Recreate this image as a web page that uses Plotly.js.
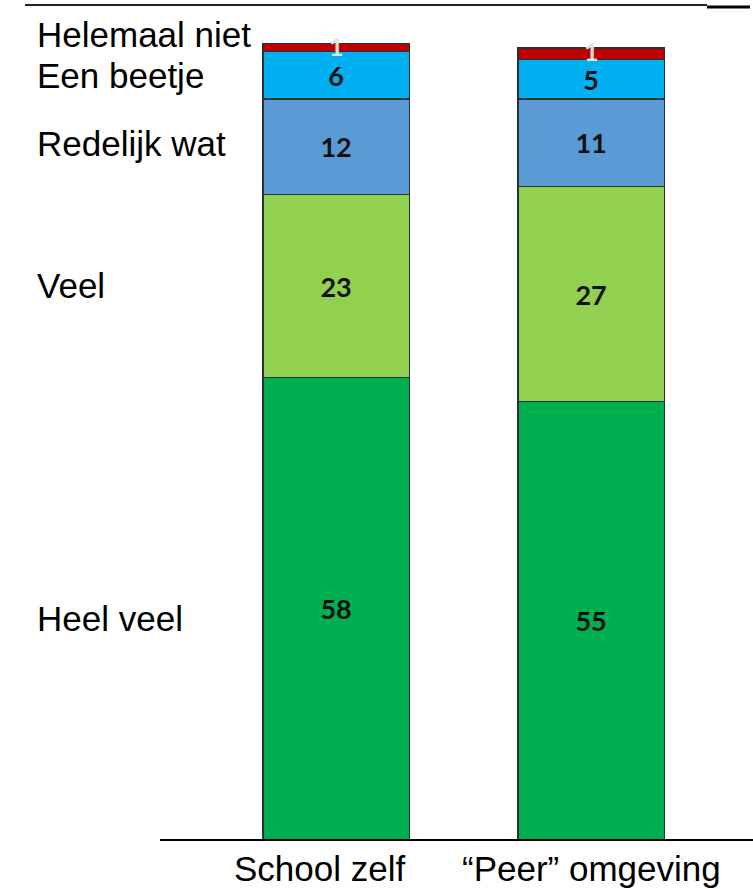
<!DOCTYPE html>
<html>
<head>
<meta charset="utf-8">
<script src="https://cdn.plot.ly/plotly-3.0.1.min.js"></script>
<style>html,body{margin:0;padding:0;background:#fff;}#chart{width:753px;height:889px;}</style>
</head>
<body>
<div id="chart"></div>
<script>
const categories = ["School zelf", "\u201cPeer\u201d omgeving"];
const seriesNames = ["Heel veel", "Veel", "Redelijk wat", "Een beetje", "Helemaal niet"];
const heelVeel = [58, 55];
const veel = [23, 27];
const redelijkWat = [12, 11];
const eenBeetje = [6, 5];
const helemaalNiet = [1, 1.4];
const colors = ["#00B050", "#92D050", "#5B9BD5", "#00B0F0", "#C00000"];

const allSeries = [heelVeel, veel, redelijkWat, eenBeetje, helemaalNiet];
const xIdx = [0, 1];

const traces = allSeries.map((vals, i) => ({
  type: "bar",
  name: seriesNames[i],
  x: xIdx,
  y: vals,
  marker: {color: colors[i], line: {color: "#263238", width: 1.2}},
  text: i < 4 ? vals.map(v => String(Math.round(v))) : vals.map(() => ""),
  textposition: i < 4 ? "inside" : "none",
  insidetextanchor: "middle",
  textfont: {family: "Lato, 'Open Sans', sans-serif", size: 27, color: "#111", weight: "bold"},
  constraintext: "none",
  hoverinfo: "none"
}));

const totals = xIdx.map(j => allSeries.reduce((s, a) => s + a[j], 0));

const annotations = [];
// small top-segment labels, sitting on the bar top
xIdx.forEach(j => {
  annotations.push({
    x: j, y: totals[j] - 0.4, xref: "x", yref: "y",
    text: "<b>" + Math.round(helemaalNiet[j]) + "</b>", showarrow: false,
    font: {family: "Lato, sans-serif", size: 25, color: "#e4e4e4"}
  });
});

// left-side series labels (pixel rows converted to paper fraction)
const plotTop = 5, plotBottom = 840;
const labelRows = [618, 285, 143, 75, 35];
seriesNames.forEach((n, i) => {
  annotations.push({
    x: 35 / 753, xref: "paper", xanchor: "left",
    y: (plotBottom - labelRows[i]) / (plotBottom - plotTop), yref: "paper", yanchor: "middle",
    text: n, showarrow: false,
    font: {family: "Liberation Sans, Arial, sans-serif", size: 35, color: "#000"}
  });
});

// category labels under the bars
const catShift = [-17, 0];
categories.forEach((c, j) => {
  annotations.push({
    x: xIdx[j], xref: "x", y: -28 / (plotBottom - plotTop), yref: "paper", yanchor: "middle",
    xshift: catShift[j],
    text: c, showarrow: false,
    font: {family: "Liberation Sans, Arial, sans-serif", size: 35, color: "#000"}
  });
});

const layout = {
  width: 753, height: 889,
  margin: {l: 0, r: 0, t: 5, b: 49},
  paper_bgcolor: "#fff", plot_bgcolor: "#fff",
  showlegend: false,
  barmode: "stack",
  bargap: 0.427,
  xaxis: {
    range: [-1.318, 1.635],
    tickvals: xIdx, ticktext: ["", ""],
    showgrid: false, zeroline: false, showline: false, ticks: "", showticklabels: false
  },
  yaxis: {range: [0, 104.8], visible: false, showgrid: false, zeroline: false},
  annotations: annotations,
  shapes: [
    {type: "line", xref: "paper", yref: "paper", x0: 160/753, x1: 1, y0: 0, y1: 0, line: {color: "#000", width: 2}},
    {type: "line", xref: "paper", yref: "paper", x0: 25/753, x1: 707/753, y0: 1, y1: 1, line: {color: "#222", width: 2}},
    {type: "line", xref: "paper", yref: "paper", x0: 707/753, x1: 750/753, y0: 0.9975, y1: 0.9975, line: {color: "#000", width: 3}}
  ]
};

Plotly.newPlot("chart", traces, layout, {displayModeBar: false, staticPlot: true});
</script>
</body>
</html>
